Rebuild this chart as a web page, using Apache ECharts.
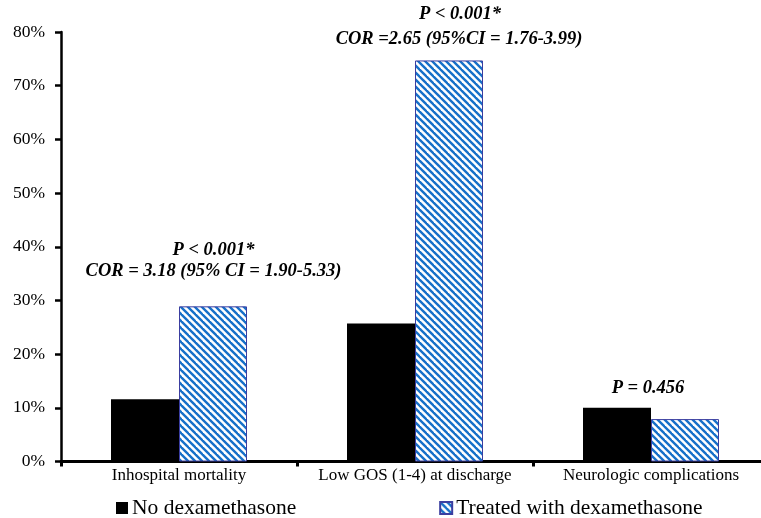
<!DOCTYPE html>
<html>
<head>
<meta charset="utf-8">
<script src="https://cdn.jsdelivr.net/npm/echarts@6/dist/echarts.min.js"></script>
<style>
html,body{margin:0;padding:0;background:#fff;}
#chart{width:761px;height:518px;}
</style>
</head>
<body>
<div id="chart"></div>
<script>
var categories = ['Inhospital mortality', 'Low GOS (1-4) at discharge', 'Neurologic complications'];
var seriesNames = ['No dexamethasone', 'Treated with dexamethasone'];
var noDexa = [11.6, 25.7, 10.0];
var withDexa = [28.9, 74.7, 7.9];
var yTicks = [0, 10, 20, 30, 40, 50, 60, 70, 80];
var annotations = [
  { cat: 0, value: 28.9, lines: ['P < 0.001*', 'COR = 3.18 (95% CI = 1.90-5.33)'] },
  { cat: 1, value: 74.7, lines: ['P < 0.001*', 'COR =2.65 (95%CI = 1.76-3.99)'] },
  { cat: 2, value: 10.0, lines: ['P = 0.456'] }
];

function makeHatch() {
  var s = 7;
  var c = document.createElement('canvas');
  c.width = s; c.height = s;
  var ctx = c.getContext('2d');
  ctx.fillStyle = '#ffffff';
  ctx.fillRect(0, 0, s, s);
  ctx.strokeStyle = '#1670c9';
  ctx.lineWidth = 2.4;
  [-s, 0, s].forEach(function (o) {
    ctx.beginPath();
    ctx.moveTo(o - 1, -1);
    ctx.lineTo(o + s + 1, s + 1);
    ctx.stroke();
  });
  return c;
}
var hatch = { image: makeHatch(), repeat: 'repeat' };

var chart = echarts.init(document.getElementById('chart'));
var font = '"Liberation Serif", "Times New Roman", serif';
chart.setOption({
  animation: false,
  backgroundColor: '#fff',
  grid: { left: 61, top: 32, right: -8, bottom: 56.5, containLabel: false, outerBoundsMode: 'none' },
  legend: {
    left: 116, top: 497, padding: 0, itemWidth: 12, itemHeight: 12, itemGap: 143,
    icon: 'rect',
    textStyle: { fontFamily: font, fontSize: 21.5, color: '#000', padding: [0, 0, 0, -1] },
    data: seriesNames
  },
  xAxis: {
    type: 'category',
    data: categories,
    axisLine: { lineStyle: { color: '#000', width: 3 } },
    axisTick: { show: true, length: 5, lineStyle: { color: '#000', width: 3 } },
    axisLabel: { fontFamily: font, fontSize: 17, color: '#000', margin: 6, interval: 0 }
  },
  yAxis: {
    type: 'value', min: 0, max: 80, interval: 10,
    axisLine: { show: true, lineStyle: { color: '#000', width: 2.5 } },
    axisTick: { show: true, length: 6, lineStyle: { color: '#000', width: 2.5 } },
    splitLine: { show: false },
    axisLabel: {
      fontFamily: font, fontSize: 17.5, color: '#000', margin: 16,
      formatter: function (v) { return yTicks.indexOf(v) >= 0 ? v + '%' : ''; }
    }
  },
  series: [
    { name: seriesNames[0], type: 'bar', data: noDexa, barWidth: 68, barGap: '0%',
      itemStyle: { color: '#000' } },
    { name: seriesNames[1], type: 'bar', data: withDexa, barWidth: 68, barGap: '0%',
      itemStyle: { color: hatch, borderColor: '#3b3ea0', borderWidth: 1 } }
  ]
});

// text placement (px): horizontal offset from category centre, vertical offsets of each line from reference value
var dx = [[34.5, 34.5], [45, 44], [-3]];
var dy = [[-56, -35], [-47, -22], [-20]];
var graphics = [];
annotations.forEach(function (a, i) {
  var p = chart.convertToPixel({ gridIndex: 0 }, [a.cat, a.value]);
  a.lines.forEach(function (t, j) {
    graphics.push({
      type: 'text',
      x: p[0] + dx[i][j],
      y: p[1] + dy[i][j] + (i === 1 ? 1 : 0),
      style: {
        text: t, fill: '#000', align: 'center', verticalAlign: 'middle',
        font: 'italic bold 18.5px ' + font
      }
    });
  });
});
chart.setOption({ graphic: graphics });
</script>
</body>
</html>
